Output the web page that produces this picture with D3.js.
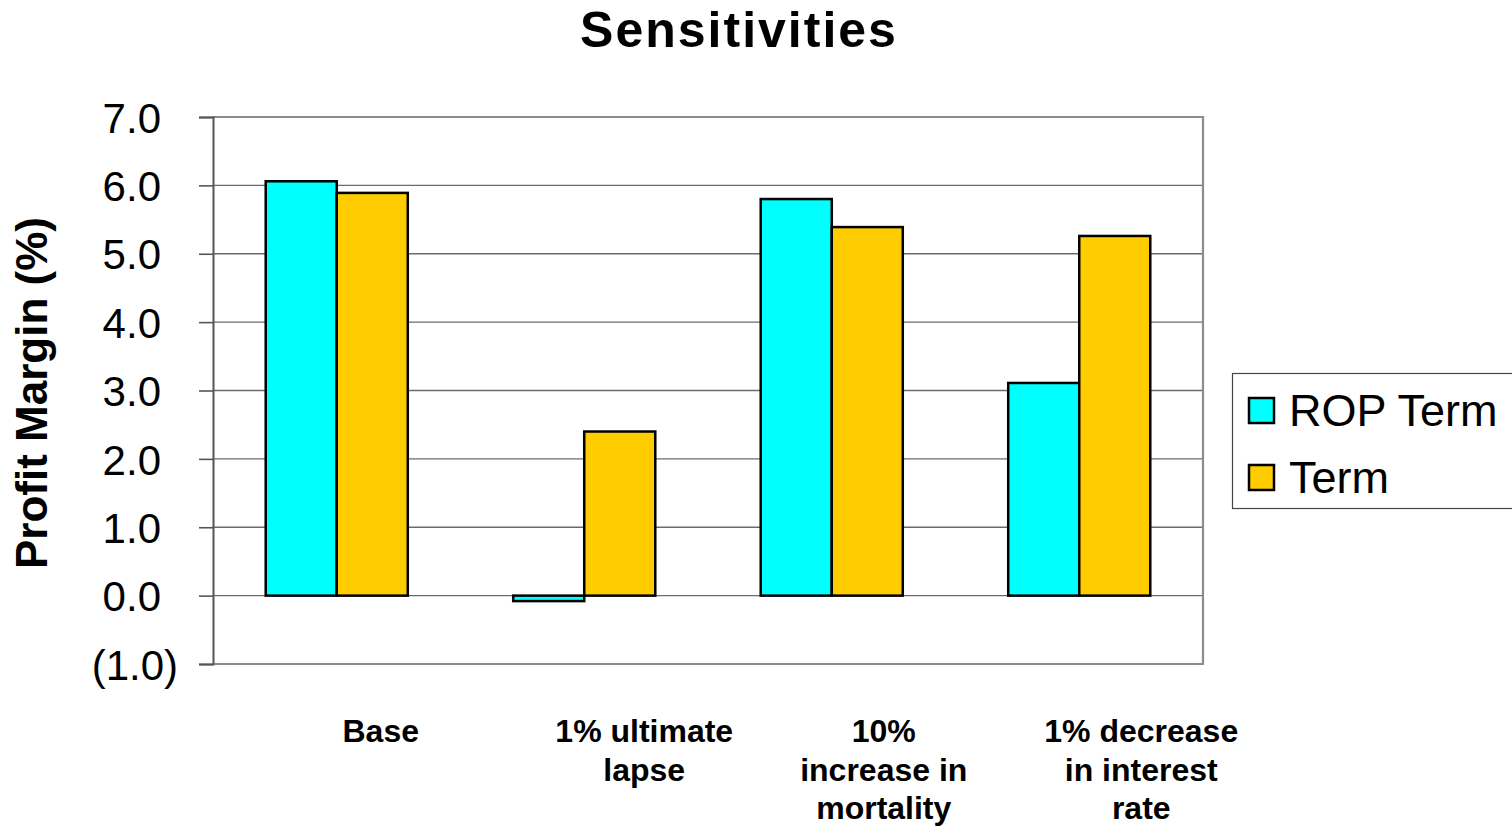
<!DOCTYPE html>
<html>
<head>
<meta charset="utf-8">
<script src="https://cdn.jsdelivr.net/npm/d3@7"></script>
<style>
  html, body { margin: 0; padding: 0; background: #fff; }
  svg { display: block; font-family: "Liberation Sans", Arial, sans-serif; }
</style>
</head>
<body>
<svg id="chart" width="1512" height="827"></svg>
<script>
// Profit margin sensitivities by scenario
const categories = [
  ["Base"],
  ["1% ultimate", "lapse"],
  ["10%", "increase in", "mortality"],
  ["1% decrease", "in interest", "rate"]
];
const seriesNames = ["ROP Term", "Term"];
const ropTerm = [6.06, -0.08, 5.80, 3.11];
const term = [5.89, 2.40, 5.39, 5.26];
const yTicks = [-1, 0, 1, 2, 3, 4, 5, 6, 7];
const colors = ["#00FFFF", "#FFCC00"];

// Horizontal nudge of each wrapped category label box
const labelShift = [44, 60, 52, 62];

const svg = d3.select("#chart");
const plot = { left: 213, right: 1203, top: 117, bottom: 664 };

const y = d3.scaleLinear().domain([-1, 7]).range([plot.bottom, plot.top]);
const x0 = d3.scaleBand()
  .domain(d3.range(categories.length))
  .range([plot.left, plot.right])
  .paddingInner(0.426)
  .paddingOuter(0.213);
const x1 = d3.scaleBand().domain([0, 1]).range([0, x0.bandwidth()]);

const fmt = v => v < 0 ? "(" + d3.format(".1f")(-v) + ")" : d3.format(".1f")(v);

// Gridlines
svg.append("g").selectAll("line")
  .data(yTicks.filter(t => t > -1 && t < 7))
  .join("line")
  .attr("x1", plot.left).attr("x2", plot.right)
  .attr("y1", d => y(d)).attr("y2", d => y(d))
  .attr("stroke", "#6b6b6b").attr("stroke-width", 1.3);

// Plot frame (top, right, bottom)
svg.append("path")
  .attr("d", `M${plot.left},${plot.top}H${plot.right}V${plot.bottom}H${plot.left}`)
  .attr("fill", "none").attr("stroke", "#8c8c8c").attr("stroke-width", 2.2);

// Y axis
const yAxis = d3.axisLeft(y).tickValues(yTicks).tickSize(14).tickPadding(0).tickFormat(fmt);
const gy = svg.append("g").attr("transform", `translate(${plot.left},0)`).call(yAxis);
gy.select(".domain").attr("stroke", "#555").attr("stroke-width", 2);
gy.selectAll(".tick line").attr("stroke", "#555").attr("stroke-width", 1.6);
gy.selectAll(".tick text")
  .attr("font-size", 42)
  .attr("font-family", "Liberation Sans, Arial, sans-serif")
  .attr("fill", "#000")
  .attr("dy", "0.36em")
  .attr("x", d => d < 0 ? -35 : -52);

// Bars
const rows = categories.map((c, i) => [ropTerm[i], term[i]]);
const groups = svg.append("g").selectAll("g")
  .data(rows)
  .join("g")
  .attr("transform", (d, i) => `translate(${x0(i)},0)`);
groups.selectAll("rect")
  .data(d => d.map((v, s) => ({ v, s })))
  .join("rect")
  .attr("x", d => x1(d.s))
  .attr("width", x1.bandwidth())
  .attr("y", d => y(Math.max(0, d.v)))
  .attr("height", d => Math.abs(y(d.v) - y(0)))
  .attr("fill", d => colors[d.s])
  .attr("stroke", "#000")
  .attr("stroke-width", 2.5);

// Category labels
const catG = svg.append("g");
categories.forEach((lines, i) => {
  const t = catG.append("text")
    .attr("text-anchor", "middle")
    .attr("font-weight", "bold")
    .attr("font-size", 32)
    .attr("fill", "#000");
  lines.forEach((ln, k) => {
    t.append("tspan")
      .attr("x", x0(i) + x0.bandwidth() / 2 + labelShift[i])
      .attr("y", 742 + k * 38.5)
      .text(ln);
  });
});

// Title
svg.append("text")
  .attr("x", 739).attr("y", 47)
  .attr("text-anchor", "middle")
  .attr("font-weight", "bold")
  .attr("font-size", 50)
  .attr("letter-spacing", 2)
  .text("Sensitivities");

// Y axis title
svg.append("text")
  .attr("transform", "translate(47,393) rotate(-90)")
  .attr("text-anchor", "middle")
  .attr("font-weight", "bold")
  .attr("font-size", 44)
  .text("Profit Margin (%)");

// Legend
const lg = svg.append("g");
lg.append("rect")
  .attr("x", 1232.5).attr("y", 373.5).attr("width", 300).attr("height", 135)
  .attr("fill", "#fff").attr("stroke", "#444").attr("stroke-width", 1.2);
seriesNames.forEach((name, i) => {
  const cy = 411 + i * 67;
  lg.append("rect")
    .attr("x", 1249).attr("y", cy - 13).attr("width", 25).attr("height", 25)
    .attr("fill", colors[i]).attr("stroke", "#000").attr("stroke-width", 2.5);
  lg.append("text")
    .attr("x", 1289).attr("y", cy + 15)
    .attr("font-size", 45)
    .text(name);
});
</script>
</body>
</html>
